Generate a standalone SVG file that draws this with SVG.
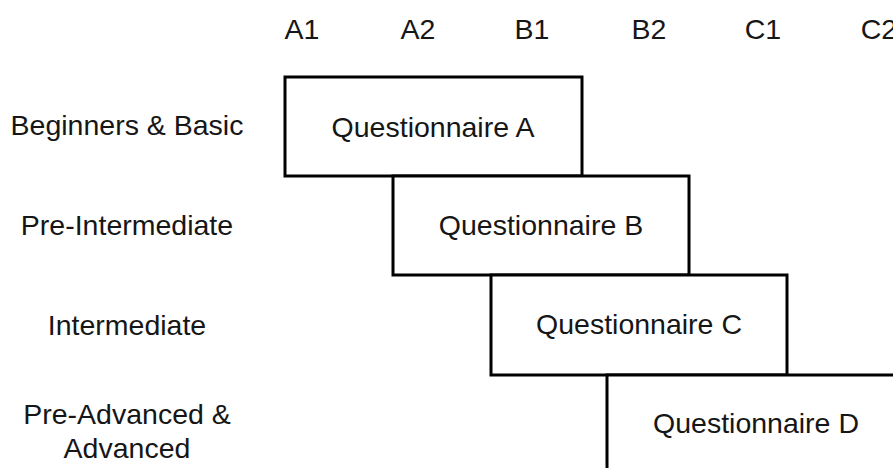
<svg xmlns="http://www.w3.org/2000/svg" width="893" height="468" viewBox="0 0 893 468">
<style>
text{font-family:"Liberation Sans",Arial,sans-serif;font-size:28.5px;fill:#161616;text-anchor:middle}
.box{fill:#fff;stroke:#000;stroke-width:3}
</style>
<rect width="893" height="468" fill="#fff"/>
<g id="columns">
<text x="302" y="39">A1</text>
<text x="418" y="39">A2</text>
<text x="532" y="39">B1</text>
<text x="649" y="39">B2</text>
<text x="763" y="39">C1</text>
<text x="879" y="39">C2</text>
</g>
<g id="rows">
<text x="127" y="135">Beginners &amp; Basic</text>
<text x="127" y="235">Pre-Intermediate</text>
<text x="127" y="335">Intermediate</text>
<text x="127" y="424">Pre-Advanced &amp;</text>
<text x="127" y="458">Advanced</text>
</g>
<g id="questionnaireA">
<rect class="box" x="285" y="77" width="297" height="99"/>
<text x="433" y="137">Questionnaire A</text>
</g>
<g id="questionnaireB">
<rect class="box" x="393" y="176" width="296" height="99"/>
<text x="541" y="235">Questionnaire B</text>
</g>
<g id="questionnaireC">
<rect class="box" x="491" y="275" width="296" height="100"/>
<text x="639" y="334">Questionnaire C</text>
</g>
<g id="questionnaireD">
<rect class="box" x="607" y="375" width="300" height="110"/>
<text x="756" y="433">Questionnaire D</text>
</g>
</svg>
